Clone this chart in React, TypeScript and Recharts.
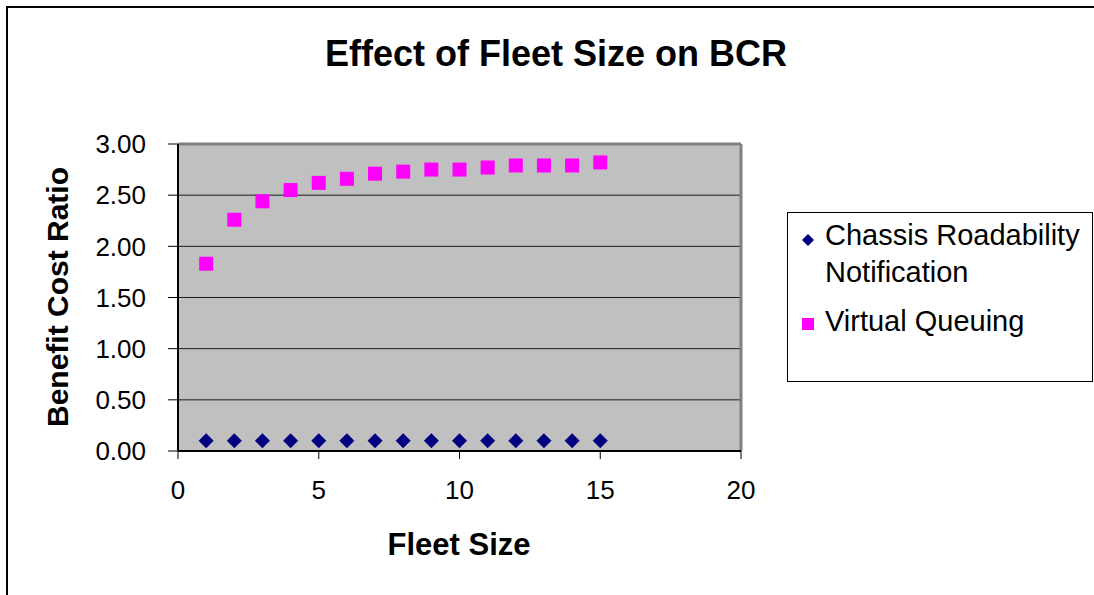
import { ScatterChart, Scatter, XAxis, YAxis, CartesianGrid, ReferenceLine } from "recharts";

const fleetSize = [1, 2, 3, 4, 5, 6, 7, 8, 9, 10, 11, 12, 13, 14, 15];
const chassisBcr = [0.1, 0.1, 0.1, 0.1, 0.1, 0.1, 0.1, 0.1, 0.1, 0.1, 0.1, 0.1, 0.1, 0.1, 0.1];
const queuingBcr = [1.83, 2.26, 2.44, 2.55, 2.62, 2.66, 2.71, 2.73, 2.75, 2.75, 2.77, 2.79, 2.79, 2.79, 2.82];
const xTicks = [0, 5, 10, 15, 20];
const yTicks = [0, 0.5, 1, 1.5, 2, 2.5, 3];

const seriesNames = ["Chassis Roadability Notification", "Virtual Queuing"];
const seriesColors = ["#000080", "#FF00FF"];

const chassisData = fleetSize.map((x, i) => ({ x, y: chassisBcr[i] }));
const queuingData = fleetSize.map((x, i) => ({ x, y: queuingBcr[i] }));

const FONT = "'Liberation Sans', Arial, sans-serif";

const Diamond = (props: any) => {
  const { cx, cy, fill } = props;
  const r = 7.5;
  return <polygon points={`${cx},${cy - r} ${cx + r},${cy} ${cx},${cy + r} ${cx - r},${cy}`} fill={fill} />;
};

const Square = (props: any) => {
  const { cx, cy, fill } = props;
  return <rect x={cx - 7} y={cy - 7} width={14} height={14} fill={fill} />;
};

const YTick = (props: any) => {
  const { x, y, payload } = props;
  return (
    <text x={x} y={y} dy="0.355em" textAnchor="end" fontSize={26} fontFamily={FONT} fill="#000">
      {payload.value.toFixed(2)}
    </text>
  );
};

const XTick = (props: any) => {
  const { x, y, payload } = props;
  return (
    <text x={x} y={y} dy="0.71em" textAnchor="middle" fontSize={26} fontFamily={FONT} fill="#000">
      {payload.value}
    </text>
  );
};

export default function App() {
  return (
    <div style={{ position: "absolute", left: 0, top: 0, width: 1094, height: 595, background: "#fff", overflow: "hidden", fontFamily: FONT }}>
      <div style={{ position: "absolute", left: 6, top: 6, width: 1200, height: 700, borderTop: "2px solid #000", borderLeft: "2px solid #000" }} />
      <div style={{ position: "absolute", left: 0, top: 33, width: 1112, textAlign: "center", fontSize: 36, fontWeight: "bold", lineHeight: "42px" }}>
        Effect of Fleet Size on BCR
      </div>
      <div style={{ position: "absolute", left: 0, top: 527, width: 918, textAlign: "center", fontSize: 31, fontWeight: "bold", lineHeight: "36px" }}>
        Fleet Size
      </div>
      <div style={{ position: "absolute", left: 58, top: 297, width: 0, height: 0 }}>
        <div style={{ position: "absolute", left: -200, top: -18, width: 400, textAlign: "center", fontSize: 30, fontWeight: "bold", transform: "rotate(-90deg)", lineHeight: "36px" }}>
          Benefit Cost Ratio
        </div>
      </div>

      <ScatterChart width={1094} height={595} margin={{ top: 144, right: 353, bottom: 84, left: 98 }} style={{ position: "absolute", left: 0, top: 0 }}>
        <CartesianGrid horizontal vertical={false} stroke="#000" strokeOpacity={0.85} fill="#C0C0C0" />
        <XAxis
          type="number"
          dataKey="x"
          domain={[0, 20]}
          ticks={xTicks}
          height={60}
          tickSize={8}
          tickMargin={22}
          tick={<XTick />}
          axisLine={{ stroke: "#000", strokeWidth: 2 }}
          tickLine={{ stroke: "#000" }}
        />
        <YAxis
          type="number"
          dataKey="y"
          domain={[0, 3]}
          ticks={yTicks}
          width={80}
          tickSize={10}
          tickMargin={22}
          tick={<YTick />}
          axisLine={{ stroke: "#000", strokeWidth: 2 }}
          tickLine={{ stroke: "#000" }}
        />
        <ReferenceLine y={3} stroke="#808080" strokeWidth={3} />
        <ReferenceLine x={20} stroke="#808080" strokeWidth={3} />
        <Scatter name={seriesNames[0]} data={chassisData} fill={seriesColors[0]} shape={<Diamond />} isAnimationActive={false} />
        <Scatter name={seriesNames[1]} data={queuingData} fill={seriesColors[1]} shape={<Square />} isAnimationActive={false} />
      </ScatterChart>

      <div style={{ position: "absolute", left: 787, top: 212, width: 306, height: 170, border: "1px solid #000", boxSizing: "border-box", fontSize: 29, lineHeight: "37px" }}>
        {seriesNames.map((name, i) => (
          <div key={name} style={{ position: "absolute", left: 37, top: i === 0 ? 4 : 90, width: 268 }}>
            <svg width={16} height={16} style={{ position: "absolute", left: -25, top: i === 0 ? 15 : 13 }}>
              {i === 0 ? (
                <polygon points="8,2 14,8 8,14 2,8" fill={seriesColors[i]} />
              ) : (
                <rect x={2} y={2} width={12} height={12} fill={seriesColors[i]} />
              )}
            </svg>
            {name}
          </div>
        ))}
      </div>
    </div>
  );
}
